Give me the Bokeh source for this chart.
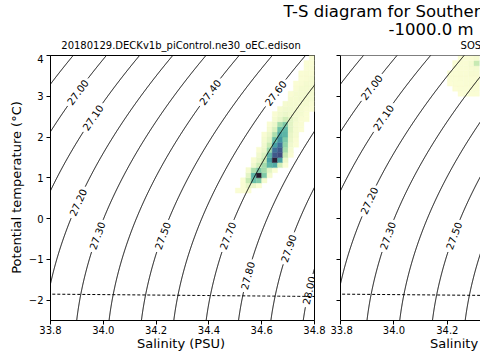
import numpy as np
from bokeh.plotting import figure
from bokeh.layouts import column, row
from bokeh.models import Label, Span, FixedTicker, ColumnDataSource, LinearColorMapper
from bokeh.transform import transform
from bokeh.core.properties import value
from bokeh.embed import file_html
from bokeh.resources import INLINE

FONT = "DejaVu Sans"

# ---------------- data ----------------
suptitle_lines = ["T-S diagram for Southern Ocean", "-1000.0 m"]
panel_titles = ["20180129.DECKv1b_piControl.ne30_oEC.edison", "SOSE"]
x_axis_title = "Salinity (PSU)"
y_axis_title = "Potential temperature (°C)"
salinity_limits = [33.8, 34.8]
temperature_limits = [-2.5, 4.0]
x_tick_values = [33.8, 34.0, 34.2, 34.4, 34.6, 34.8]
x_tick_labels = ["33.8", "34.0", "34.2", "34.4", "34.6", "34.8"]
y_tick_values = [-2, -1, 0, 1, 2, 3, 4]
y_tick_labels = ["−2", "−1", "0", "1", "2", "3", "4"]

density_levels = [26.9, 27.0, 27.1, 27.2, 27.3, 27.4, 27.5, 27.6, 27.7, 27.8, 27.9, 28.0]
# temperature at which each contour label sits (None = no label)
model_label_T = [None, 3.10, 2.48, 0.40, -0.42, 3.10, -0.42, 3.08, -0.42, -1.40, -0.73, -1.76]
sose_label_T = [None, 3.22, 2.48, 0.44, -0.42, 3.10, -0.42, 3.08, -0.42, -1.40, -0.73, -1.76]

bin_dS = 0.02
bin_dT = 0.125

# model histogram: row temperature centre, first salinity centre, normalised log volume per bin
model_row_T = [0.6875, 0.8125, 0.9375, 1.0625, 1.1875, 1.3125, 1.4375, 1.5625, 1.6875,
               1.8125, 1.9375, 2.0625, 2.1875, 2.3125, 2.4375, 2.5625, 2.6875, 2.8125,
               2.9375, 3.0625, 3.1875, 3.3125, 3.4375, 3.5625, 3.6875, 3.8125, 3.9375]
model_row_S0 = [34.51, 34.53, 34.53, 34.55, 34.55, 34.57, 34.57, 34.59, 34.59,
                34.61, 34.61, 34.61, 34.63, 34.63, 34.65, 34.65, 34.67, 34.69,
                34.71, 34.71, 34.73, 34.73, 34.75, 34.75, 34.77, 34.77, 34.79]
model_row_vals = [
    [0.010, 0.015, 0.010],
    [0.015, 0.050, 0.040, 0.010],
    [0.010, 0.120, 0.350, 0.300, 0.020],
    [0.060, 0.400, 1.000, 0.300, 0.020],
    [0.020, 0.180, 0.300, 0.200, 0.060, 0.010],
    [0.030, 0.100, 0.200, 0.400, 0.450, 0.100, 0.010],
    [0.015, 0.050, 0.120, 0.500, 0.980, 0.500, 0.040],
    [0.030, 0.080, 0.400, 0.800, 0.850, 0.120, 0.015],
    [0.015, 0.040, 0.220, 0.700, 0.800, 0.200, 0.020],
    [0.030, 0.120, 0.500, 0.700, 0.250, 0.030, 0.010],
    [0.020, 0.060, 0.350, 0.550, 0.300, 0.040, 0.015],
    [0.015, 0.040, 0.180, 0.450, 0.400, 0.050, 0.020],
    [0.020, 0.080, 0.350, 0.380, 0.060, 0.020, 0.010],
    [0.015, 0.040, 0.200, 0.300, 0.060, 0.020, 0.015],
    [0.020, 0.050, 0.100, 0.060, 0.030, 0.015, 0.010],
    [0.015, 0.030, 0.040, 0.035, 0.025, 0.020, 0.010],
    [0.020, 0.030, 0.030, 0.025, 0.020, 0.015, 0.010],
    [0.020, 0.025, 0.025, 0.020, 0.020, 0.015],
    [0.020, 0.020, 0.025, 0.020, 0.020],
    [0.015, 0.020, 0.020, 0.025, 0.020],
    [0.015, 0.020, 0.020, 0.020],
    [0.010, 0.015, 0.020, 0.020],
    [0.010, 0.015, 0.020],
    [0.010, 0.015, 0.015],
    [0.010, 0.015],
    [0.008, 0.010],
    [0.008],
]

sose_row_T = [3.0625, 3.1875, 3.3125, 3.4375, 3.5625, 3.6875, 3.8125, 3.9375]
sose_row_S0 = [34.25, 34.23, 34.21, 34.21, 34.21, 34.23, 34.23, 34.25]
sose_row_vals = [
    [0.005, 0.008, 0.008, 0.008],
    [0.005, 0.008, 0.010, 0.010, 0.010],
    [0.005, 0.008, 0.010, 0.012, 0.012, 0.012],
    [0.008, 0.010, 0.012, 0.015, 0.015, 0.015],
    [0.008, 0.010, 0.012, 0.015, 0.018, 0.018],
    [0.010, 0.012, 0.015, 0.018, 0.020],
    [0.008, 0.012, 0.015, 0.020, 0.120],
    [0.010, 0.012, 0.015, 0.020],
]

# ---------------- styling / layout ----------------
deep_stops = [(0.0, (254, 254, 214)), (0.125, (197, 233, 177)), (0.25, (143, 211, 169)),
              (0.375, (98, 186, 167)), (0.5, (71, 160, 164)), (0.625, (61, 131, 160)),
              (0.75, (63, 101, 149)), (0.875, (64, 70, 122)), (1.0, (40, 26, 44))]
palette = []
for i in range(256):
    f = i / 255
    for (a, ca), (b, cb) in zip(deep_stops[:-1], deep_stops[1:]):
        if a <= f <= b:
            w = (f - a) / (b - a)
            c = [int(round(ca[k] + w * (cb[k] - ca[k]))) for k in range(3)]
            palette.append("#%02x%02x%02x" % tuple(c))
            break
mapper = LinearColorMapper(palette=palette, low=0.0, high=1.0)

FRAME_W = 267
FRAME_H = 265
PX_PER_PSU = FRAME_W / (salinity_limits[1] - salinity_limits[0])
PX_PER_DEG = FRAME_H / (temperature_limits[1] - temperature_limits[0])
TOP_H = 54
BORDER_TOP = 1
BORDER_BOTTOM = 18
PANEL_H = BORDER_TOP + FRAME_H + BORDER_BOTTOM
BOTTOM_H = 360 - 8 - TOP_H - PANEL_H
YLAB_W = 25
SHIFT = 0.37  # em; raise of alphabetic text anchors


def sigma0(S, T):
    rho_w = (999.842594 + 6.793952e-2 * T - 9.095290e-3 * T ** 2 + 1.001685e-4 * T ** 3
             - 1.120083e-6 * T ** 4 + 6.536332e-9 * T ** 5)
    A = 8.24493e-1 - 4.0899e-3 * T + 7.6438e-5 * T ** 2 - 8.2467e-7 * T ** 3 + 5.3875e-9 * T ** 4
    B = -5.72466e-3 + 1.0227e-4 * T - 1.6546e-6 * T ** 2
    C = 4.8314e-4
    return rho_w + A * S + B * S ** 1.5 + C * S ** 2 - 1000.0


def salinity_on_isopycnal(level, T):
    T = np.asarray(T, dtype=float)
    S = np.full_like(T, 34.5)
    for _ in range(40):
        f = sigma0(S, T) - level
        d = (sigma0(S + 1e-4, T) - sigma0(S - 1e-4, T)) / 2e-4
        S = S - f / d
    return S


def freezing_T(S):
    return -0.0575 * S + 1.710523e-3 * S ** 1.5 - 2.154996e-4 * S ** 2


def cells(row_T, row_S0, row_vals):
    xs, ys, vs = [], [], []
    for t, s0, vals in zip(row_T, row_S0, row_vals):
        for k, v in enumerate(vals):
            xs.append(s0 + k * bin_dS)
            ys.append(t)
            vs.append(v)
    return ColumnDataSource(dict(x=xs, y=ys, v=vs))


def blank_fig(w, h, y_range=None):
    f = figure(width=w, height=h, x_range=(0, w), y_range=y_range or (0, h), title=None,
               x_axis_type=None, y_axis_type=None, min_border=0,
               toolbar_location=None, output_backend="svg")
    f.outline_line_color = None
    f.xgrid.visible = False
    f.ygrid.visible = False
    f.background_fill_color = "white"
    f.border_fill_color = "white"
    return f


def txt(fig, x, y, text, size, align="center", angle=0.0):
    fig.add_layout(Label(x=x, y=y, text=text, angle=angle, text_font=FONT,
                         text_font_size=f"{size}px", text_align=align,
                         text_baseline="alphabetic", text_color="black"))


def style_axis(ax):
    ax.axis_line_color = "black"
    ax.major_tick_line_color = "black"
    ax.major_tick_out = 4
    ax.major_tick_in = 0
    ax.minor_tick_line_color = None
    ax.major_label_text_font = FONT
    ax.major_label_text_font_size = "10px"
    ax.major_label_text_color = "black"


def build_panel(width, border_left, border_right, frame_w, row_T, row_S0, row_vals, label_T,
                full_outline, show_ylabels):
    x_end = salinity_limits[0] + frame_w / PX_PER_PSU
    p = figure(width=width, height=PANEL_H, x_range=(salinity_limits[0], x_end),
               y_range=(temperature_limits[0], temperature_limits[1]), title=None,
               min_border_left=border_left, min_border_right=border_right,
               min_border_top=BORDER_TOP, min_border_bottom=BORDER_BOTTOM,
               toolbar_location=None, output_backend="svg")
    p.xgrid.visible = False
    p.ygrid.visible = False
    p.background_fill_color = "white"
    p.border_fill_color = "white"
    if full_outline:
        p.outline_line_color = "black"
        p.outline_line_alpha = 1.0
        p.outline_line_width = 1
    else:
        p.outline_line_color = None
        p.add_layout(Span(location=temperature_limits[1], dimension="width",
                          line_color="black", line_width=1))

    # histogram
    src = cells(row_T, row_S0, row_vals)
    p.rect(x="x", y="y", width=bin_dS, height=bin_dT, source=src,
           fill_color=transform("v", mapper), line_color=transform("v", mapper), line_width=0.4)

    # density contours with inline labels
    xs, ys = [], []
    lx, ly, lt, la = [], [], [], []
    Tgrid = np.linspace(-2.7, 4.2, 500)
    for lvl, tl in zip(density_levels, label_T):
        S = salinity_on_isopycnal(lvl, Tgrid)
        if tl is None:
            xs.append(list(S)); ys.append(list(Tgrid))
            continue
        text = f"{lvl:.2f}"
        Sl = salinity_on_isopycnal(lvl, [tl - 0.05, tl, tl + 0.05])
        d = np.hypot((S - Sl[1]) * PX_PER_PSU, (Tgrid - tl) * PX_PER_DEG)
        half = 0.5 * 10 * (0.636 * 4 + 0.318) + 2.5
        keep = d > half
        seg_x, seg_y = [], []
        for s, t, k in zip(S, Tgrid, keep):
            if k:
                seg_x.append(s); seg_y.append(t)
            elif seg_x:
                xs.append(seg_x); ys.append(seg_y); seg_x, seg_y = [], []
        if seg_x:
            xs.append(seg_x); ys.append(seg_y)
        ang = np.arctan2(0.1 * PX_PER_DEG, (Sl[2] - Sl[0]) * PX_PER_PSU)
        if ang > np.pi / 2:
            ang -= np.pi
        lx.append(Sl[1]); ly.append(tl); lt.append(text); la.append(ang)
    p.multi_line(xs, ys, line_color="black", line_width=1)
    p.text(x=lx, y=ly, text=lt, angle=la, text_font=value(FONT), text_font_size="10px",
           text_align="center", text_baseline="alphabetic", text_color="black")

    # freezing line
    Sf = np.linspace(salinity_limits[0] - 0.05, salinity_limits[1] + 0.05, 60)
    p.line(Sf, freezing_T(Sf), line_color="black", line_width=1, line_dash="3 2")

    # axes
    style_axis(p.xaxis[0])
    style_axis(p.yaxis[0])
    p.xaxis.ticker = FixedTicker(ticks=x_tick_values)
    p.xaxis.major_label_overrides = dict(zip(x_tick_values, x_tick_labels))
    p.xaxis.major_label_standoff = 1
    p.yaxis.ticker = FixedTicker(ticks=y_tick_values)
    if show_ylabels:
        p.yaxis.major_label_overrides = dict(zip(y_tick_values, y_tick_labels))
        p.yaxis.major_label_standoff = 3
    else:
        p.yaxis.major_label_overrides = {t: "" for t in y_tick_values}
        p.yaxis.major_label_standoff = 0
    return p


left = build_panel(480 - YLAB_W - 150, 47 - YLAB_W, 16, FRAME_W, model_row_T, model_row_S0,
                   model_row_vals, model_label_T, True, True)
right = build_panel(150, 10, 0, 140, sose_row_T, sose_row_S0,
                    sose_row_vals, sose_label_T, False, False)

# top strip: figure title and panel titles (page baselines 17.5, 35, 49)
top = blank_fig(480, TOP_H)
txt(top, 283, TOP_H - 17.5 + SHIFT * 16.5, suptitle_lines[0], 16.5, "left")
txt(top, 388, TOP_H - 35 + SHIFT * 16.5, suptitle_lines[1], 16.5, "left")
txt(top, 180.5, TOP_H - 49 + SHIFT * 10, panel_titles[0], 10)
txt(top, 473.5, TOP_H - 49 + SHIFT * 10, panel_titles[1], 10)

# left strip: y-axis title (its frame is aligned with the panel frames)
ylab = blank_fig(YLAB_W, PANEL_H, y_range=(temperature_limits[0], temperature_limits[1]))
txt(ylab, 21 - SHIFT * 13, temperature_limits[0] + (320 - 187) / PX_PER_DEG,
    y_axis_title, 13, "center", np.pi / 2)

# bottom strip: x-axis titles (page baseline 347.5)
bottom = blank_fig(480, BOTTOM_H)
for cx in (180.5, 473.5):
    txt(bottom, cx, (352 - 347.5) + SHIFT * 13, x_axis_title, 13)

layout = column(top, row(ylab, left, right), bottom,
                styles={"position": "absolute", "left": "0px", "top": "0px"})

with open("out.html", "w") as fh:
    fh.write(file_html(layout, INLINE))
